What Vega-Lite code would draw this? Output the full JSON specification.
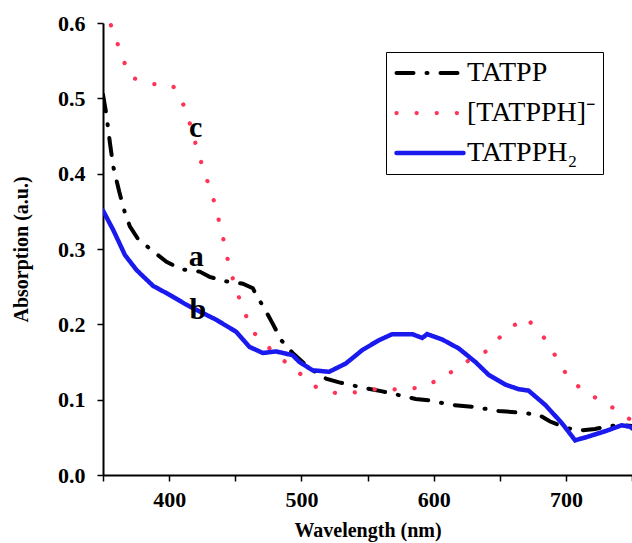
{
  "$schema": "https://vega.github.io/schema/vega-lite/v6.json",
  "width": 529,
  "height": 452,
  "autosize": "none",
  "padding": {"left": 103, "top": 23, "right": 0, "bottom": 68},
  "background": "white",
  "config": {
    "view": {"stroke": null},
    "axis": {"grid": false, "domainColor": "black", "domainWidth": 2, "tickColor": "black", "tickWidth": 1.5, "tickSize": 6,
      "labelFont": "Liberation Serif", "labelFontWeight": "bold", "labelFontSize": 22, "labelColor": "black",
      "titleFont": "Liberation Serif", "titleFontWeight": "bold", "titleFontSize": 20, "titleColor": "black"},
    "legend": {"title": null, "orient": "none", "legendX": 283, "legendY": 29, "strokeColor": "black", "fillColor": "white",
      "padding": 7, "symbolType": "M-3.35,0H3.35", "symbolSize": 400, "labelFont": "Liberation Serif", "labelFontSize": 28,
      "labelFontWeight": "normal", "labelColor": "black", "labelOffset": 23, "symbolOffset": 23, "rowPadding": 12}
  },
  "datasets": {
    "spectra": [
      {"series": "TATPP", "wl": 350, "abs": 0.505},
      {"series": "TATPP", "wl": 352.8, "abs": 0.476},
      {"series": "TATPP", "wl": 354, "abs": 0.458},
      {"series": "TATPP", "wl": 355.3, "abs": 0.44},
      {"series": "TATPP", "wl": 357.8, "abs": 0.409},
      {"series": "TATPP", "wl": 362.3, "abs": 0.376},
      {"series": "TATPP", "wl": 366.6, "abs": 0.348},
      {"series": "TATPP", "wl": 370.3, "abs": 0.33},
      {"series": "TATPP", "wl": 376.6, "abs": 0.313},
      {"series": "TATPP", "wl": 387.9, "abs": 0.297},
      {"series": "TATPP", "wl": 398, "abs": 0.283},
      {"series": "TATPP", "wl": 409.3, "abs": 0.273},
      {"series": "TATPP", "wl": 423.1, "abs": 0.27},
      {"series": "TATPP", "wl": 430.6, "abs": 0.263},
      {"series": "TATPP", "wl": 443.2, "abs": 0.257},
      {"series": "TATPP", "wl": 455.7, "abs": 0.254},
      {"series": "TATPP", "wl": 463.3, "abs": 0.248},
      {"series": "TATPP", "wl": 465.8, "abs": 0.239},
      {"series": "TATPP", "wl": 472.1, "abs": 0.221},
      {"series": "TATPP", "wl": 478.3, "abs": 0.201},
      {"series": "TATPP", "wl": 484.7, "abs": 0.179},
      {"series": "TATPP", "wl": 493.4, "abs": 0.162},
      {"series": "TATPP", "wl": 506, "abs": 0.142},
      {"series": "TATPP", "wl": 518.6, "abs": 0.128},
      {"series": "TATPP", "wl": 528.6, "abs": 0.123},
      {"series": "TATPP", "wl": 546.2, "abs": 0.116},
      {"series": "TATPP", "wl": 561.2, "abs": 0.111},
      {"series": "TATPP", "wl": 576.3, "abs": 0.105},
      {"series": "TATPP", "wl": 586.4, "abs": 0.101},
      {"series": "TATPP", "wl": 596.4, "abs": 0.099},
      {"series": "TATPP", "wl": 614, "abs": 0.093},
      {"series": "TATPP", "wl": 631.6, "abs": 0.09},
      {"series": "TATPP", "wl": 649.2, "abs": 0.085},
      {"series": "TATPP", "wl": 664.2, "abs": 0.083},
      {"series": "TATPP", "wl": 679.3, "abs": 0.08},
      {"series": "TATPP", "wl": 688.1, "abs": 0.071},
      {"series": "TATPP", "wl": 699.4, "abs": 0.063},
      {"series": "TATPP", "wl": 709.5, "abs": 0.059},
      {"series": "TATPP", "wl": 722, "abs": 0.061},
      {"series": "TATPP", "wl": 732, "abs": 0.065},
      {"series": "TATPP", "wl": 744.6, "abs": 0.066},
      {"series": "TATPP", "wl": 750, "abs": 0.065},
      {"series": "[TATPPH]⁻", "wl": 356, "abs": 0.597},
      {"series": "[TATPPH]⁻", "wl": 358.5, "abs": 0.587},
      {"series": "[TATPPH]⁻", "wl": 363.6, "abs": 0.558},
      {"series": "[TATPPH]⁻", "wl": 370.9, "abs": 0.528},
      {"series": "[TATPPH]⁻", "wl": 387.2, "abs": 0.519},
      {"series": "[TATPPH]⁻", "wl": 402.8, "abs": 0.517},
      {"series": "[TATPPH]⁻", "wl": 412.5, "abs": 0.486},
      {"series": "[TATPPH]⁻", "wl": 422.1, "abs": 0.427},
      {"series": "[TATPPH]⁻", "wl": 427.6, "abs": 0.397},
      {"series": "[TATPPH]⁻", "wl": 433.1, "abs": 0.369},
      {"series": "[TATPPH]⁻", "wl": 437.6, "abs": 0.338},
      {"series": "[TATPPH]⁻", "wl": 441.7, "abs": 0.308},
      {"series": "[TATPPH]⁻", "wl": 445.2, "abs": 0.278},
      {"series": "[TATPPH]⁻", "wl": 450.2, "abs": 0.249},
      {"series": "[TATPPH]⁻", "wl": 456.3, "abs": 0.218},
      {"series": "[TATPPH]⁻", "wl": 464.5, "abs": 0.188},
      {"series": "[TATPPH]⁻", "wl": 480.1, "abs": 0.161},
      {"series": "[TATPPH]⁻", "wl": 495.2, "abs": 0.14},
      {"series": "[TATPPH]⁻", "wl": 511, "abs": 0.117},
      {"series": "[TATPPH]⁻", "wl": 527.3, "abs": 0.108},
      {"series": "[TATPPH]⁻", "wl": 543.7, "abs": 0.11},
      {"series": "[TATPPH]⁻", "wl": 560, "abs": 0.115},
      {"series": "[TATPPH]⁻", "wl": 575.8, "abs": 0.113},
      {"series": "[TATPPH]⁻", "wl": 592.6, "abs": 0.117},
      {"series": "[TATPPH]⁻", "wl": 608.5, "abs": 0.131},
      {"series": "[TATPPH]⁻", "wl": 624.5, "abs": 0.15},
      {"series": "[TATPPH]⁻", "wl": 640.6, "abs": 0.165},
      {"series": "[TATPPH]⁻", "wl": 655, "abs": 0.192},
      {"series": "[TATPPH]⁻", "wl": 670, "abs": 0.209},
      {"series": "[TATPPH]⁻", "wl": 683.6, "abs": 0.182},
      {"series": "[TATPPH]⁻", "wl": 693.9, "abs": 0.153},
      {"series": "[TATPPH]⁻", "wl": 703.2, "abs": 0.125},
      {"series": "[TATPPH]⁻", "wl": 720, "abs": 0.105},
      {"series": "[TATPPH]⁻", "wl": 735.8, "abs": 0.089},
      {"series": "[TATPPH]⁻", "wl": 750, "abs": 0.072},
      {"series": "TATPPH₂", "wl": 350, "abs": 0.351},
      {"series": "TATPPH₂", "wl": 357.8, "abs": 0.325},
      {"series": "TATPPH₂", "wl": 366.6, "abs": 0.292},
      {"series": "TATPPH₂", "wl": 375.4, "abs": 0.272},
      {"series": "TATPPH₂", "wl": 387.9, "abs": 0.251},
      {"series": "TATPPH₂", "wl": 400.5, "abs": 0.239},
      {"series": "TATPPH₂", "wl": 413.1, "abs": 0.226},
      {"series": "TATPPH₂", "wl": 423.1, "abs": 0.217},
      {"series": "TATPPH₂", "wl": 435.7, "abs": 0.206},
      {"series": "TATPPH₂", "wl": 450.8, "abs": 0.19},
      {"series": "TATPPH₂", "wl": 460.8, "abs": 0.17},
      {"series": "TATPPH₂", "wl": 470.8, "abs": 0.162},
      {"series": "TATPPH₂", "wl": 480.9, "abs": 0.164},
      {"series": "TATPPH₂", "wl": 493.4, "abs": 0.159},
      {"series": "TATPPH₂", "wl": 498.5, "abs": 0.15},
      {"series": "TATPPH₂", "wl": 508.5, "abs": 0.139},
      {"series": "TATPPH₂", "wl": 521, "abs": 0.137},
      {"series": "TATPPH₂", "wl": 533.6, "abs": 0.148},
      {"series": "TATPPH₂", "wl": 546.2, "abs": 0.166},
      {"series": "TATPPH₂", "wl": 558.7, "abs": 0.179},
      {"series": "TATPPH₂", "wl": 568.8, "abs": 0.187},
      {"series": "TATPPH₂", "wl": 583.8, "abs": 0.187},
      {"series": "TATPPH₂", "wl": 591.4, "abs": 0.182},
      {"series": "TATPPH₂", "wl": 595.1, "abs": 0.187},
      {"series": "TATPPH₂", "wl": 606.4, "abs": 0.18},
      {"series": "TATPPH₂", "wl": 619, "abs": 0.168},
      {"series": "TATPPH₂", "wl": 631.6, "abs": 0.15},
      {"series": "TATPPH₂", "wl": 641.6, "abs": 0.133},
      {"series": "TATPPH₂", "wl": 654.2, "abs": 0.12},
      {"series": "TATPPH₂", "wl": 664.2, "abs": 0.114},
      {"series": "TATPPH₂", "wl": 671.8, "abs": 0.112},
      {"series": "TATPPH₂", "wl": 684.4, "abs": 0.093},
      {"series": "TATPPH₂", "wl": 696.9, "abs": 0.069},
      {"series": "TATPPH₂", "wl": 707, "abs": 0.046},
      {"series": "TATPPH₂", "wl": 717, "abs": 0.051},
      {"series": "TATPPH₂", "wl": 729.6, "abs": 0.058},
      {"series": "TATPPH₂", "wl": 742.1, "abs": 0.066},
      {"series": "TATPPH₂", "wl": 748.6, "abs": 0.064},
      {"series": "TATPPH₂", "wl": 750, "abs": 0.062}
    ],
    "letters": [
      {"wl": 420.1, "abs": 0.46, "letter": "c"},
      {"wl": 420.6, "abs": 0.29, "letter": "a"},
      {"wl": 421.8, "abs": 0.219, "letter": "b"}
    ]
  },
  "layer": [
    {
      "data": {"name": "spectra"},
      "mark": {"type": "line", "strokeCap": "round", "clip": true},
      "encoding": {
        "x": {"field": "wl", "type": "quantitative",
          "scale": {"domain": [350, 750], "nice": false, "zero": false},
          "axis": {"title": "Wavelength (nm)", "values": [350, 400, 450, 500, 550, 600, 650, 700, 750],
            "labelExpr": "(datum.value % 100 == 0 && datum.value >= 400 && datum.value <= 700) ? datum.value : ''",
            "labelPadding": 8, "titlePadding": 10}},
        "y": {"field": "abs", "type": "quantitative",
          "scale": {"domain": [0, 0.6], "nice": false},
          "axis": {"title": "Absorption (a.u.)", "values": [0, 0.05, 0.1, 0.15, 0.2, 0.25, 0.3, 0.35, 0.4, 0.45, 0.5, 0.55, 0.6],
            "labelExpr": "abs(datum.value * 10 - round(datum.value * 10)) < 0.001 ? format(datum.value, '.1f') : ''",
            "labelPadding": 12, "titlePadding": 26}},
        "color": {"field": "series", "type": "nominal",
          "scale": {"domain": ["TATPP", "[TATPPH]⁻", "TATPPH₂"], "range": ["#000000", "#ff3355", "#1a1aee"]},
          "legend": {"encode": {"symbols": {"update": {"strokeCap": {"value": "round"}}}}}},
        "strokeDash": {"field": "series", "type": "nominal",
          "scale": {"domain": ["TATPP", "[TATPPH]⁻", "TATPPH₂"], "range": [[17, 13, 1, 13], [0.1, 20], [1, 0]]},
          "legend": {"encode": {"symbols": {"update": {"strokeCap": {"value": "round"}}}}}},
        "strokeWidth": {"field": "series", "type": "nominal",
          "scale": {"domain": ["TATPP", "[TATPPH]⁻", "TATPPH₂"], "range": [4, 4.5, 1.7]},
          "legend": {"encode": {"symbols": {"update": {"strokeCap": {"value": "round"}}}}}}
      }
    },
    {
      "data": {"name": "letters"},
      "mark": {"type": "text", "font": "Liberation Serif", "fontWeight": "bold", "fontSize": 30, "color": "black", "align": "center", "baseline": "middle"},
      "encoding": {
        "x": {"field": "wl", "type": "quantitative"},
        "y": {"field": "abs", "type": "quantitative"},
        "text": {"field": "letter", "type": "nominal"}
      }
    }
  ]
}
